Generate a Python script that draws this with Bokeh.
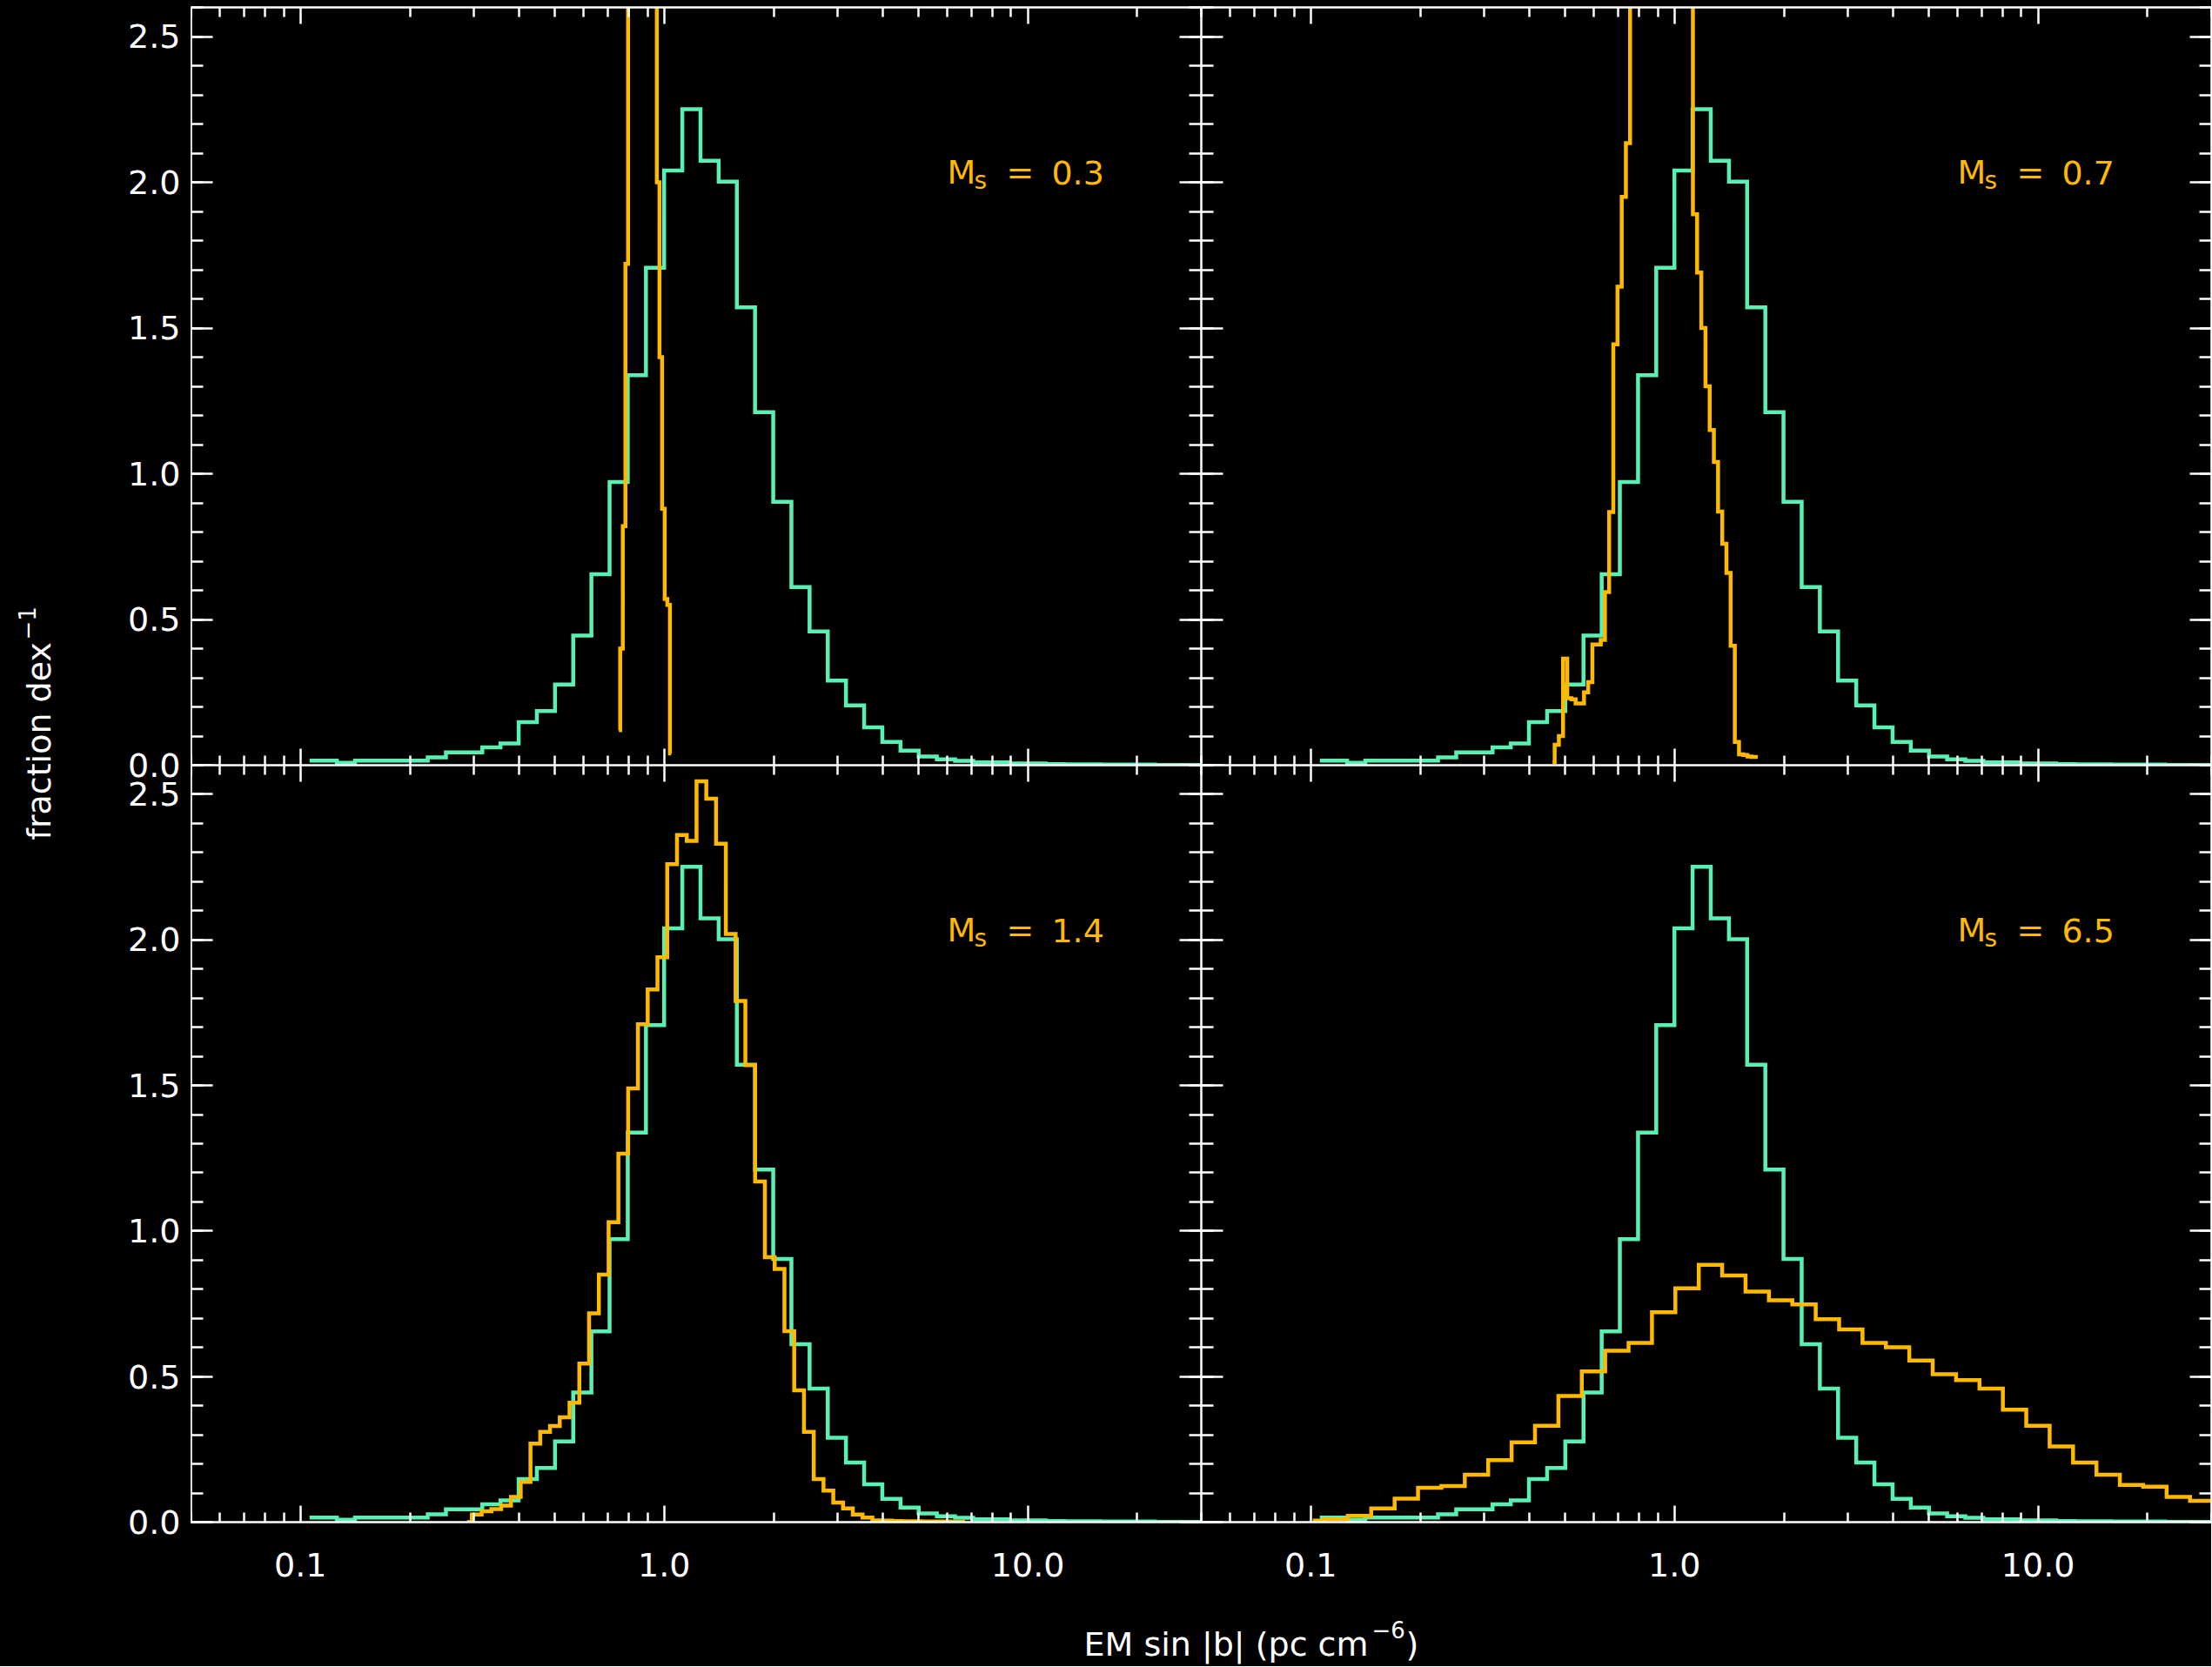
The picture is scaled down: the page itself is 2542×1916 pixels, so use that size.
import numpy as np
from bokeh.plotting import figure
from bokeh.layouts import row, column
from bokeh.models import (LogAxis, LinearAxis, FixedTicker, PrintfTickFormatter,
                          CustomJSTickFormatter, Range1d, Label)
from bokeh.embed import file_html
from bokeh.resources import INLINE

FONT = "DejaVu Sans"
GREEN = "#5af0b4"
ORANGE = "#ffb900"
WHITE = "#ffffff"
BG = "#000000"

# ---------------- data (log10 of first bin centre, bin width in dex, fraction per dex)
ref_log_first, ref_dlog = -0.975, 0.05
ref_frac = [0.016, 0.016, 0.008, 0.016, 0.016, 0.016, 0.016, 0.027, 0.044, 0.044,
            0.061, 0.075, 0.148, 0.186, 0.277, 0.445, 0.655, 0.972, 1.338, 1.707,
            2.040, 2.251, 2.074, 2.002, 1.571, 1.211, 0.904, 0.611, 0.459, 0.290,
            0.205, 0.130, 0.080, 0.050, 0.030, 0.020, 0.015, 0.010, 0.010, 0.006,
            0.006, 0.004, 0.003, 0.003, 0.002, 0.002, 0.002, 0.001, 0.001, 0.001]

ms03_log_first, ms03_dlog = -0.1244, 0.0072
ms03_frac = [0.12, 0.40, 0.82, 1.72, 4.0, 8.0, 12.0, 16.0, 18.0, 19.0, 18.0,
             16.0, 12.0, 8.0, 4.0, 2.0, 1.40, 0.88, 0.57, 0.55, 0.04]

ms07_log_first, ms07_dlog = -0.335, 0.01152
ms07_frac = [0.011, 0.07, 0.10, 0.366, 0.23, 0.226, 0.212, 0.212, 0.25, 0.285,
             0.414, 0.414, 0.43, 0.594, 0.869, 1.444, 1.642, 1.95, 2.134,
             2.9, 3.4, 3.9, 4.3, 4.6, 4.9, 5.0, 5.0, 4.9, 4.7, 4.4, 4.0, 3.5, 3.1, 2.7,
             1.89, 1.69, 1.50, 1.30, 1.15, 1.04, 0.87, 0.76, 0.66, 0.41, 0.08,
             0.037, 0.035, 0.03, 0.028, 0.028]

ms14_log_first, ms14_dlog = -0.5421, 0.02686
ms14_frac = [0.0, 0.026, 0.037, 0.045, 0.057, 0.087, 0.138, 0.27, 0.31, 0.33,
             0.36, 0.41, 0.545, 0.717, 0.85, 1.03, 1.266, 1.49, 1.71, 1.83,
             1.94, 2.26, 2.36, 2.34, 2.545, 2.485, 2.33, 2.02, 1.79, 1.57,
             1.17, 0.91, 0.87, 0.656, 0.453, 0.31, 0.148, 0.108, 0.067, 0.047,
             0.026, 0.016, 0.006, 0.005, 0.004, 0.003, 0.003, 0.002, 0.002, 0.002,
             0.001, 0.001]

ms65_log_first, ms65_dlog = -0.9945, 0.06433
ms65_frac = [0.005, 0.01, 0.022, 0.047, 0.081, 0.118, 0.124, 0.163, 0.213, 0.274,
             0.331, 0.433, 0.518, 0.589, 0.616, 0.721, 0.803, 0.884, 0.847, 0.792,
             0.762, 0.748, 0.697, 0.662, 0.616, 0.601, 0.555, 0.508, 0.488, 0.459,
             0.386, 0.331, 0.26, 0.205, 0.163, 0.128, 0.122, 0.087, 0.073, 0.06, 0.05]

mach_labels = ["0.3", "0.7", "1.4", "6.5"]
x_major = [0.1, 1.0, 10.0]
x_minor = [0.05, 0.06, 0.07, 0.08, 0.09, 0.2, 0.3, 0.4, 0.5, 0.6, 0.7, 0.8, 0.9,
           2, 3, 4, 5, 6, 7, 8, 9, 20, 30]
y_major = [0.0, 0.5, 1.0, 1.5, 2.0, 2.5]
y_minor = [round(0.1 * i, 1) for i in range(27)]

X_RANGE = (0.05, 30.0)
Y_RANGE = (0.0, 2.6)
# the y tick labels of both stacked panels live on one shared label axis:
# lower panel 0..2.6, upper panel 2.6..5.2 (shown again as 0.0..2.5)
y_label_ticks = [0.0, 0.5, 1.0, 1.5, 2.0, 2.5, 2.6, 3.1, 3.6, 4.1, 4.6, 5.1]
BLACK_STYLE = {"background-color": "black"}


def centres(log_first, dlog, n):
    return 10 ** (log_first + dlog * np.arange(n))


def style_axis(ax, major, minor, show_labels, tmaj, tmin, standoff):
    ax.ticker = FixedTicker(ticks=major, minor_ticks=minor)
    ax.formatter = PrintfTickFormatter(format="%.1f")
    ax.axis_line_color = WHITE
    ax.axis_line_width = 2.5
    ax.major_tick_line_color = WHITE
    ax.major_tick_line_width = 2.5
    ax.minor_tick_line_color = WHITE
    ax.minor_tick_line_width = 2.5
    ax.major_tick_in = tmaj
    ax.major_tick_out = 0
    ax.minor_tick_in = tmin
    ax.minor_tick_out = 0
    ax.axis_label = None
    if show_labels:
        ax.major_label_text_color = WHITE
        ax.major_label_text_font = FONT
        ax.major_label_text_font_size = "38px"
        ax.major_label_standoff = standoff
    else:
        ax.major_label_text_color = None
        ax.major_label_text_font_size = "0px"
        ax.major_label_standoff = 0


def blank(p):
    p.outline_line_color = None
    p.outline_line_alpha = 0
    p.background_fill_color = BG
    p.border_fill_color = BG
    p.styles = BLACK_STYLE


def panel(width, height, top_b, bottom_b, xlabels):
    p = figure(width=width, height=height, x_axis_type="log",
               x_range=Range1d(*X_RANGE), y_range=Range1d(*Y_RANGE),
               output_backend="svg", toolbar_location=None,
               min_border_left=0, min_border_right=0,
               min_border_top=top_b, min_border_bottom=bottom_b)
    blank(p)
    p.xgrid.visible = False
    p.ygrid.visible = False
    style_axis(p.xaxis[0], x_major, x_minor, xlabels, 19, 11, 35)
    style_axis(p.yaxis[0], y_major, y_minor, False, 25, 14, 0)
    top = LogAxis()
    style_axis(top, x_major, x_minor, False, 19, 11, 0)
    p.add_layout(top, "above")
    right = LinearAxis()
    style_axis(right, y_major, y_minor, False, 25, 14, 0)
    p.add_layout(right, "right")
    return p


def draw(p, log_first, dlog, frac, colour):
    p.step(centres(log_first, dlog, len(frac)), frac, mode="center",
           line_color=colour, line_width=4.5, line_join="miter")


def mach_text(p, label):
    common = dict(x=6.0, text_color=ORANGE, text_font=FONT,
                  text_baseline="alphabetic", text_align="left")
    p.add_layout(Label(y=2.033, text="M", text_font_size="38px", x_offset=0, **common))
    p.add_layout(Label(y=2.006, text="s", text_font_size="28px", x_offset=31, **common))
    p.add_layout(Label(y=2.033, text="=", text_font_size="38px", x_offset=68, **common))
    p.add_layout(Label(y=2.033, text=label, text_font_size="38px", x_offset=120, **common))


FRAME_W = 1161
TOP_B = 8
BOT_B = 86
TOP_H = TOP_B + 871
BOT_H = 870 + BOT_B

tl = panel(FRAME_W, TOP_H, TOP_B, 0, False)
tr = panel(FRAME_W, TOP_H, TOP_B, 0, False)
bl = panel(FRAME_W, BOT_H, 0, BOT_B, True)
br = panel(FRAME_W, BOT_H, 0, BOT_B, True)

orange_sets = [(ms03_log_first, ms03_dlog, ms03_frac),
               (ms07_log_first, ms07_dlog, ms07_frac),
               (ms14_log_first, ms14_dlog, ms14_frac),
               (ms65_log_first, ms65_dlog, ms65_frac)]

for p, (lf, dl, fr), lab in zip([tl, tr, bl, br], orange_sets, mach_labels):
    draw(p, ref_log_first, ref_dlog, ref_frac, GREEN)
    draw(p, lf, dl, fr, ORANGE)
    mach_text(p, lab)

grid_h = TOP_H + BOT_H
frame_top, frame_bottom = TOP_B, grid_h - BOT_B   # page rows of the stacked frames

# ---------------- shared y tick-label axis (frame is a 1 px strip at the panels' left edge)
yticks = figure(width=119, height=grid_h, x_range=Range1d(0, 1),
                y_range=Range1d(0.0, 2 * Y_RANGE[1]),
                x_axis_type=None, y_axis_type=None, output_backend="svg",
                toolbar_location=None, min_border_left=118, min_border_right=0,
                min_border_top=TOP_B, min_border_bottom=BOT_B)
blank(yticks)
lab_axis = LinearAxis()
lab_axis.ticker = FixedTicker(ticks=y_label_ticks)
lab_axis.formatter = CustomJSTickFormatter(
    code="const v = tick > 2.55 ? tick - 2.6 : tick; return Math.abs(v).toFixed(1);")
lab_axis.axis_line_color = None
lab_axis.major_tick_line_color = None
lab_axis.minor_tick_line_color = None
lab_axis.major_tick_in = 0
lab_axis.major_tick_out = 0
lab_axis.minor_tick_in = 0
lab_axis.minor_tick_out = 0
lab_axis.major_label_text_color = WHITE
lab_axis.major_label_text_font = FONT
lab_axis.major_label_text_font_size = "38px"
lab_axis.major_label_standoff = 11
lab_axis.axis_label = None
yticks.add_layout(lab_axis, "left")

# ---------------- axis titles
# ylab: same top/bottom borders as its row neighbours; its y data equal page rows
ylab = figure(width=100, height=grid_h, x_range=Range1d(0, 100),
              y_range=Range1d(frame_bottom, frame_top),
              x_axis_type=None, y_axis_type=None, output_backend="svg",
              toolbar_location=None, min_border_left=0, min_border_right=0,
              min_border_top=TOP_B, min_border_bottom=BOT_B)
blank(ylab)
ylab.add_layout(Label(x=44, y=965, text="fraction dex", angle=np.pi / 2,
                      text_color=WHITE, text_font=FONT, text_font_size="38px",
                      text_align="left", text_baseline="alphabetic"))
ylab.add_layout(Label(x=30, y=735, text="\u22121", angle=np.pi / 2,
                      text_color=WHITE, text_font=FONT, text_font_size="26px",
                      text_align="left", text_baseline="alphabetic"))

xlab_h = 1916 - grid_h - 1
xlab = figure(width=2541, height=xlab_h, x_range=Range1d(0, 2541), y_range=Range1d(0, xlab_h),
              x_axis_type=None, y_axis_type=None, output_backend="svg",
              toolbar_location=None, min_border=0)
blank(xlab)
xcommon = dict(text_color=WHITE, text_font=FONT, text_align="left", text_baseline="alphabetic")
xlab.add_layout(Label(x=1245, y=26, text="EM sin |b| (pc cm", text_font_size="38px", **xcommon))
xlab.add_layout(Label(x=1576, y=43, text="\u22126", text_font_size="26px", **xcommon))
xlab.add_layout(Label(x=1615, y=26, text=")", text_font_size="38px", **xcommon))

inner = column(row(tl, tr, spacing=0, styles=BLACK_STYLE),
               row(bl, br, spacing=0, styles=BLACK_STYLE),
               spacing=0, styles=BLACK_STYLE)
layout = column(row(ylab, yticks, inner, spacing=0, styles=BLACK_STYLE), xlab,
                spacing=0, styles=BLACK_STYLE)

open("out.html", "w").write(file_html(layout, INLINE))
